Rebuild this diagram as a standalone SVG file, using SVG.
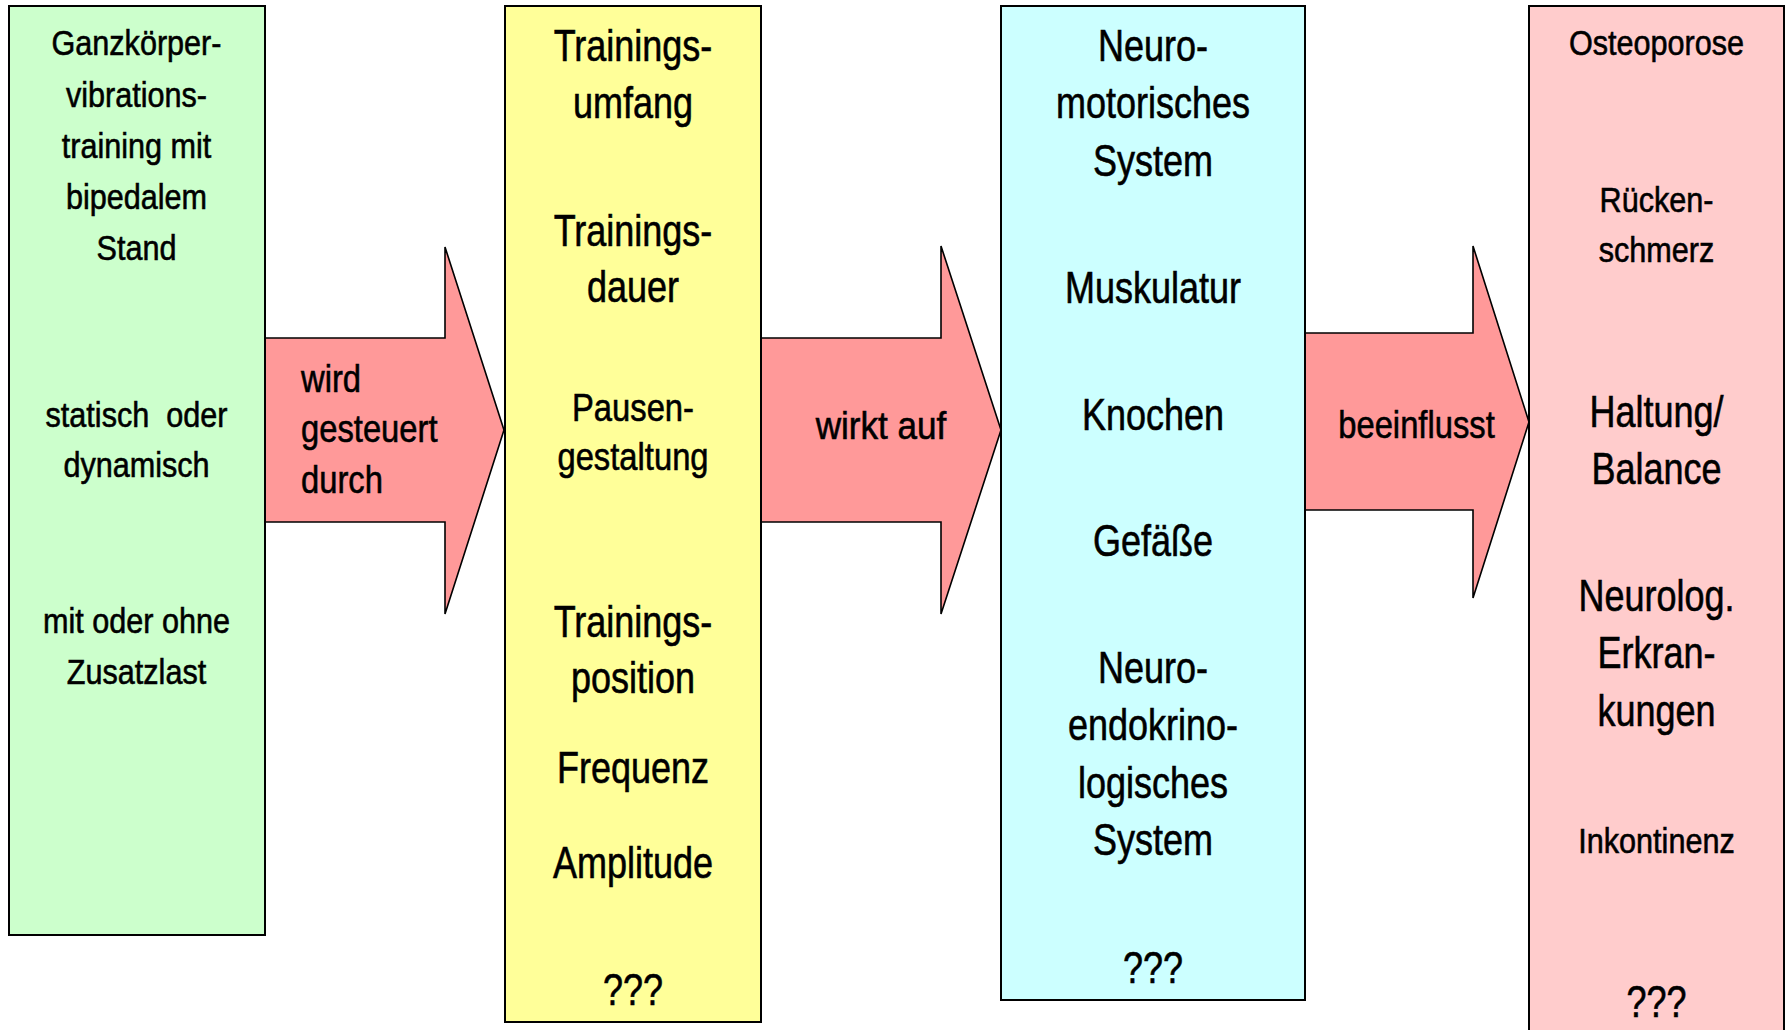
<svg xmlns="http://www.w3.org/2000/svg" width="1788" height="1030" viewBox="0 0 1788 1030">
<style>
text{font-family:"Liberation Sans",Arial,sans-serif;fill:#000;stroke:#000;stroke-width:0.6;text-anchor:middle}
.L{font-size:45px}
.S{font-size:36px}
.M{font-size:39px}
.st{text-anchor:start}
.box{stroke:#000;stroke-width:2}
.arrow{fill:#FF9999;stroke:#000;stroke-width:1.6;stroke-linejoin:miter}
</style>
<rect width="1788" height="1030" fill="#fff"/>
<g id="connectors">
<polygon class="arrow" points="265,338 445,338 445,247 504,430 445,614 445,522 265,522"/>
<polygon class="arrow" points="761,338 941,338 941,246 1001,430 941,614 941,522 761,522"/>
<polygon class="arrow" points="1305,333 1473,333 1473,246 1529,422 1473,598 1473,510 1305,510"/>
<g transform="translate(301 0) scale(0.84 1)">
<text class="M st" x="0" y="392">wird</text>
<text class="M st" x="0" y="442">gesteuert</text>
<text class="M st" x="0" y="493">durch</text>
</g>
<g transform="translate(881 0) scale(0.9 1)"><text class="M" x="0" y="439">wirkt auf</text></g>
<g transform="translate(1416.5 0) scale(0.84 1)"><text class="M" x="0" y="438">beeinflusst</text></g>
</g>
<g id="node-vibration">
<rect class="box" x="9" y="6" width="256" height="929" fill="#CCFFCC"/>
<g transform="translate(136.5 0) scale(0.85 1)">
<text class="S" x="0" y="55">Ganzkörper-</text>
<text class="S" x="0" y="107">vibrations-</text>
<text class="S" x="0" y="158">training mit</text>
<text class="S" x="0" y="209">bipedalem</text>
<text class="S" x="0" y="260">Stand</text>
<text class="S" x="0" y="427" xml:space="preserve">statisch  oder</text>
<text class="S" x="0" y="477">dynamisch</text>
<text class="S" x="0" y="633">mit oder ohne</text>
<text class="S" x="0" y="684">Zusatzlast</text>
</g>
</g>
<g id="node-parameter">
<rect class="box" x="505" y="6" width="256" height="1016" fill="#FFFF99"/>
<g transform="translate(633 0) scale(0.8 1)">
<text class="L" x="0" y="61">Trainings-</text>
<text class="L" x="0" y="118">umfang</text>
<text class="L" x="0" y="246">Trainings-</text>
<text class="L" x="0" y="302">dauer</text>
<text class="L" x="0" y="637">Trainings-</text>
<text class="L" x="0" y="693">position</text>
<text class="L" x="0" y="783">Frequenz</text>
<text class="L" x="0" y="878">Amplitude</text>
<text class="L" x="0" y="1005">???</text>
</g>
<g transform="translate(633 0) scale(0.84 1)">
<text class="M" x="0" y="421">Pausen-</text>
<text class="M" x="0" y="470">gestaltung</text>
</g>
</g>
<g id="node-systeme">
<rect class="box" x="1001" y="6" width="304" height="994" fill="#CCFFFF"/>
<g transform="translate(1153 0) scale(0.8 1)">
<text class="L" x="0" y="61">Neuro-</text>
<text class="L" x="0" y="118">motorisches</text>
<text class="L" x="0" y="176">System</text>
<text class="L" x="0" y="303">Muskulatur</text>
<text class="L" x="0" y="430">Knochen</text>
<text class="L" x="0" y="556">Gefäße</text>
<text class="L" x="0" y="683">Neuro-</text>
<text class="L" x="0" y="740">endokrino-</text>
<text class="L" x="0" y="798">logisches</text>
<text class="L" x="0" y="855">System</text>
<text class="L" x="0" y="983">???</text>
</g>
</g>
<g id="node-erkrankungen">
<rect class="box" x="1529" y="6" width="255" height="1040" fill="#FFCCCC"/>
<g transform="translate(1656.5 0) scale(0.85 1)">
<text class="S" x="0" y="55">Osteoporose</text>
<text class="S" x="0" y="212">Rücken-</text>
<text class="S" x="0" y="262">schmerz</text>
<text class="S" x="0" y="853">Inkontinenz</text>
</g>
<g transform="translate(1656.5 0) scale(0.8 1)">
<text class="L" x="0" y="427">Haltung/</text>
<text class="L" x="0" y="484">Balance</text>
<text class="L" x="0" y="611">Neurolog.</text>
<text class="L" x="0" y="668">Erkran-</text>
<text class="L" x="0" y="726">kungen</text>
<text class="L" x="0" y="1017">???</text>
</g>
</g>
</svg>
